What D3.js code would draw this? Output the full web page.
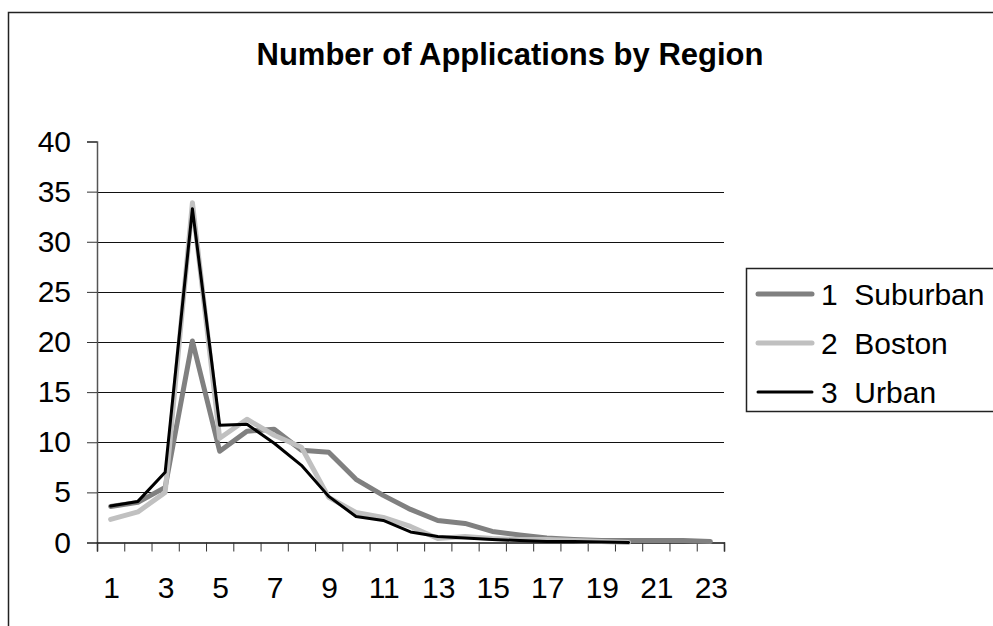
<!DOCTYPE html>
<html>
<head>
<meta charset="utf-8">
<script src="https://cdn.jsdelivr.net/npm/d3@7"></script>
<style>
  html, body { margin: 0; padding: 0; background: #fff; }
  svg { display: block; }
  text { font-family: "Liberation Sans", Arial, sans-serif; fill: #000; }
</style>
</head>
<body>
<svg id="chart" width="993" height="626"></svg>
<script>
const title = "Number of Applications by Region";
const categories = d3.range(1, 24).map(String);
const xTickLabels = ["1","3","5","7","9","11","13","15","17","19","21","23"];
const yTicks = [0, 5, 10, 15, 20, 25, 30, 35, 40];
const seriesNames = ["1\u00a0\u00a0Suburban", "2\u00a0\u00a0Boston", "3\u00a0\u00a0Urban"];
const suburban = [3.6, 4.0, 5.5, 20.1, 9.1, 11.1, 11.3, 9.2, 9.0, 6.3, 4.7, 3.3, 2.2, 1.9, 1.1, 0.75, 0.45, 0.3, 0.2, 0.2, 0.2, 0.2, 0.1];
const boston   = [2.3, 3.05, 5.0, 33.9, 10.4, 12.3, 10.7, 9.5, 4.5, 3.0, 2.5, 1.6, 0.4, 0.6, 0.4, 0.3, 0.3, 0.2, 0.1, 0.0];
const urban    = [3.65, 4.1, 7.0, 33.3, 11.7, 11.8, 9.9, 7.7, 4.6, 2.6, 2.2, 1.05, 0.6, 0.45, 0.3, 0.2, 0.1, 0.1, 0.05, 0.0];

const seriesColors = ["#808080", "#c0c0c0", "#000000"];
const seriesWidths = [5, 5, 3];
const seriesData = [suburban, boston, urban];

const svg = d3.select("#chart");
const plotLeft = 97, plotRight = 724, plotTop = 141.5, plotBottom = 542.5;

// chart border
svg.append("rect").attr("x", 8.5).attr("y", 12.5).attr("width", 1000).attr("height", 700)
  .attr("fill", "none").attr("stroke", "#222").attr("stroke-width", 1.5);

// title
svg.append("text").attr("x", 510).attr("y", 65).attr("text-anchor", "middle")
  .style("font-size", "31px").style("font-weight", "bold").text(title);

const x = d3.scaleBand().domain(categories).range([plotLeft, plotRight]);
const xEdge = d3.scaleLinear().domain([0, categories.length]).range([plotLeft, plotRight]);
const y = d3.scaleLinear().domain([0, 40]).range([plotBottom, plotTop]);

// gridlines (excluding top)
svg.append("g").selectAll("line").data(yTicks.filter(d => d > 0 && d < 40)).join("line")
  .attr("x1", plotLeft).attr("x2", plotRight)
  .attr("y1", d => Math.round(y(d)) + 0.5).attr("y2", d => Math.round(y(d)) + 0.5)
  .attr("stroke", "#111").attr("stroke-width", 1);

// y axis
const yAxis = svg.append("g").attr("transform", `translate(${plotLeft},0)`)
  .call(d3.axisLeft(y).tickValues(yTicks).tickSize(10).tickFormat(""));
yAxis.select(".domain").attr("stroke", "#555").attr("stroke-width", 1.5);
yAxis.selectAll(".tick line").attr("stroke", "#333");
svg.append("g").selectAll("text").data(yTicks).join("text")
  .attr("x", 71).attr("y", d => y(d) + 10).attr("text-anchor", "end")
  .style("font-size", "30px").text(d => d);

// x axis
const xAxis = svg.append("g").attr("transform", `translate(0,${plotBottom})`)
  .call(d3.axisBottom(xEdge).tickValues(d3.range(0, categories.length + 1)).tickSize(9).tickFormat(""));
xAxis.select(".domain").attr("stroke", "#111").attr("stroke-width", 1.5);
xAxis.selectAll(".tick line").attr("stroke", "#333");
svg.append("g").selectAll("text").data(xTickLabels).join("text")
  .attr("x", d => x(d) + x.bandwidth() / 2 + 1).attr("y", 598).attr("text-anchor", "middle")
  .style("font-size", "30px").text(d => d);

// lines
const line = d3.line()
  .x((d, i) => x(categories[i]) + x.bandwidth() / 2)
  .y(d => y(d));
seriesData.forEach((data, i) => {
  svg.append("path").datum(data).attr("d", line)
    .attr("fill", "none").attr("stroke", seriesColors[i]).attr("stroke-width", seriesWidths[i])
    .attr("stroke-linejoin", "round").attr("stroke-linecap", "round");
});

// legend
svg.append("rect").attr("x", 746.5).attr("y", 268.5).attr("width", 300).attr("height", 143)
  .attr("fill", "#fff").attr("stroke", "#222").attr("stroke-width", 1.5);
const legendY = [294, 343, 392];
seriesNames.forEach((name, i) => {
  svg.append("line").attr("x1", 758).attr("x2", 812).attr("y1", legendY[i]).attr("y2", legendY[i])
    .attr("stroke", seriesColors[i]).attr("stroke-width", seriesWidths[i]).attr("stroke-linecap", "round");
  svg.append("text").attr("x", 821).attr("y", legendY[i] + 10.5)
    .style("font-size", "30px").text(name);
});
</script>
</body>
</html>
